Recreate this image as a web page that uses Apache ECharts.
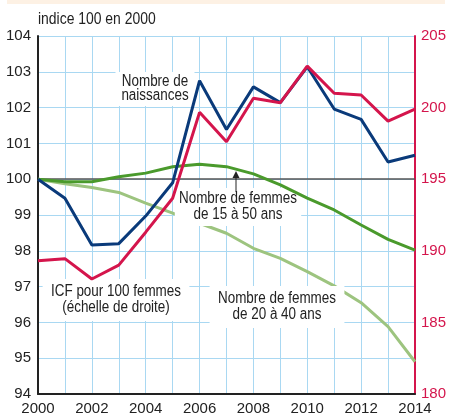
<!DOCTYPE html>
<html><head><meta charset="utf-8">
<script src="https://cdn.jsdelivr.net/npm/echarts@6/dist/echarts.min.js"></script>
<style>html,body{margin:0;padding:0;background:#fff}#c{width:449px;height:417px}</style>
</head><body><div id="c"></div>
<script>
var years = [2000,2001,2002,2003,2004,2005,2006,2007,2008,2009,2010,2011,2012,2013,2014];
var naissances = [100,99.47,98.16,98.2,98.97,99.9,102.75,101.39,102.58,102.14,103.14,101.96,101.67,100.48,100.67];
var icf = [189.3,189.45,188.03,189.0,191.3,193.67,199.67,197.62,200.65,200.34,202.9,201.0,200.88,199.06,199.9];
var femmes1550 = [100,99.93,99.93,100.07,100.17,100.35,100.42,100.35,100.15,99.84,99.47,99.14,98.72,98.32,98.02];
var femmes2040 = [100,99.87,99.77,99.63,99.33,99.05,98.77,98.49,98.07,97.79,97.42,97.02,96.55,95.88,94.9];
var leftTicks = [94,104,1];
var rightTicks = [180,205,5];

function pairs(v){return years.map(function(y,i){return [y,v[i]];});}
var FONT = '"Liberation Sans",Arial,sans-serif';
var chart = echarts.init(document.getElementById('c'),null,{renderer:'canvas'});
function lab(x,y,txt,lh,pad,sx){
  return {type:'text',x:x,y:y,scaleX:sx,z:3.5,style:{text:txt,font:'16px '+FONT,fill:'#222',
    align:'center',verticalAlign:'middle',lineHeight:lh,backgroundColor:'#fff',padding:pad}};
}
chart.setOption({
  animation:false,
  backgroundColor:'#fff',
  grid:{left:38,right:33,top:36,bottom:23,containLabel:false},
  xAxis:{type:'value',min:years[0],max:years[years.length-1],interval:1,
    axisLine:{show:true,lineStyle:{color:'#222',width:2}},axisTick:{show:false},
    axisLabel:{margin:7,color:'#222',fontSize:15,fontFamily:FONT,
      formatter:function(v){return v%2===0?String(v):'';}},
    splitLine:{show:true,lineStyle:{color:'#a9d8f2',width:1}}},
  yAxis:[
    {type:'value',min:leftTicks[0],max:leftTicks[1],interval:leftTicks[2],position:'left',
     axisLine:{show:true,lineStyle:{color:'#222',width:2}},axisTick:{show:false},
     axisLabel:{margin:7,color:'#222',fontSize:15,fontFamily:FONT},
     splitLine:{show:true,lineStyle:{color:'#a9d8f2',width:1}}},
    {type:'value',min:rightTicks[0],max:rightTicks[1],interval:rightTicks[2],position:'right',
     axisLine:{show:true,lineStyle:{color:'#d4154c',width:2}},axisTick:{show:false},
     axisLabel:{margin:6,color:'#d4154c',fontSize:15,fontFamily:FONT},
     splitLine:{show:false}}
  ],
  series:[
    {type:'line',name:'Nombre de femmes de 20 à 40 ans',data:pairs(femmes2040),yAxisIndex:0,
     symbol:'none',lineStyle:{color:'#9dc47f',width:3},z:3},
    {type:'line',name:'Nombre de femmes de 15 à 50 ans',data:pairs(femmes1550),yAxisIndex:0,
     symbol:'none',lineStyle:{color:'#4a9a2c',width:3},z:4,
     markLine:{silent:true,symbol:'none',label:{show:false},z:4,
       lineStyle:{color:'#555',width:1.5,type:'solid'},data:[{yAxis:100}]}},
    {type:'line',name:'Nombre de naissances',data:pairs(naissances),yAxisIndex:0,
     symbol:'none',lineStyle:{color:'#0a3a7a',width:3},z:5},
    {type:'line',name:'ICF pour 100 femmes',data:pairs(icf),yAxisIndex:1,
     symbol:'none',lineStyle:{color:'#d4154c',width:3},z:6}
  ],
  graphic:[
    {type:'rect',x:7,y:0,z:1,shape:{width:438,height:4},style:{fill:'#fdf1e4'}},
    {type:'text',x:38,y:20,scaleX:0.87,style:{text:'indice 100 en 2000',font:'16px '+FONT,fill:'#222',verticalAlign:'middle'}},
    lab(155,89,'Nombre de\nnaissances',14,[3,7,3,7],0.84),
    lab(238,207,'Nombre de femmes\nde 15 à 50 ans',16,[3,5,3,5],0.84),
    lab(116,300,'ICF pour 100 femmes\n(échelle de droite)',16,[5,10,5,10],0.84),
    lab(277,307,'Nombre de femmes\nde 20 à 40 ans',16,[5,10,5,10],0.84),
    {type:'line',x:0,y:0,z:50,shape:{x1:236,y1:192,x2:236,y2:177},style:{stroke:'#222',lineWidth:1}},
    {type:'polygon',x:0,y:0,z:50,shape:{points:[[232.5,178],[239.5,178],[236,171]]},style:{fill:'#222'}}
  ]
});
</script></body></html>
